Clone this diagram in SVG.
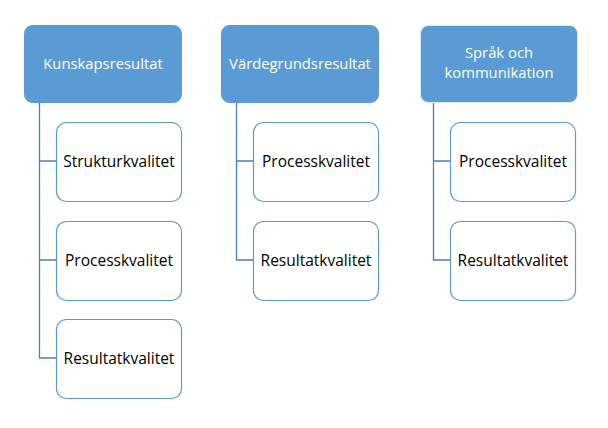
<svg xmlns="http://www.w3.org/2000/svg" width="608" height="428" viewBox="0 0 608 428">
<style>
.hdr{fill:#5B9BD5;stroke:#5B9BD5;stroke-width:1}
.ch{fill:#fff;stroke:#5B9BD5;stroke-width:1.2}
.ht{font-family:"Open Sans","Liberation Sans",sans-serif;font-size:14.8px;fill:#fff;text-anchor:middle}
.ct{font-family:"Open Sans","Liberation Sans",sans-serif;font-size:15.5px;fill:#000;text-anchor:middle}
.con{fill:none;stroke:#4A7EBB;stroke-width:1.3}
</style>
<rect width="608" height="428" fill="#fff"/>
<g id="connectors">
<path class="con" d="M39.5 102V161H56M39.5 161V260H56M39.5 260V358H56"/>
<path class="con" d="M236.5 102V161H253M236.5 161V260H253"/>
<path class="con" d="M433.5 102V161H450M433.5 161V260H450"/>
</g>
<g id="kunskapsresultat"><rect class="hdr" x="24.5" y="25.5" width="157" height="77" rx="8"/><text class="ht" x="103" y="69">Kunskapsresultat</text></g>
<g id="vardegrundsresultat"><rect class="hdr" x="221.5" y="25.5" width="157" height="77" rx="8"/><text class="ht" x="300" y="69">Värdegrundsresultat</text></g>
<g id="sprak"><rect class="hdr" x="420.5" y="25.5" width="157" height="77" rx="8" style="stroke:#DDEBF7"/><text class="ht" x="499" y="58">Språk och</text><text class="ht" x="499" y="78">kommunikation</text></g>
<g id="k1"><rect class="ch" x="56.5" y="122.5" width="125" height="79" rx="10"/><text class="ct" x="119" y="167">Strukturkvalitet</text></g>
<g id="k2"><rect class="ch" x="56.5" y="221.5" width="125" height="79" rx="10"/><text class="ct" x="119" y="266">Processkvalitet</text></g>
<g id="k3"><rect class="ch" x="56.5" y="319.5" width="125" height="79" rx="10"/><text class="ct" x="119" y="364">Resultatkvalitet</text></g>
<g id="v1"><rect class="ch" x="253.5" y="122.5" width="125" height="79" rx="10"/><text class="ct" x="316" y="167">Processkvalitet</text></g>
<g id="v2"><rect class="ch" x="253.5" y="221.5" width="125" height="79" rx="10"/><text class="ct" x="316" y="266">Resultatkvalitet</text></g>
<g id="s1"><rect class="ch" x="450.5" y="122.5" width="125" height="79" rx="10"/><text class="ct" x="513" y="167">Processkvalitet</text></g>
<g id="s2"><rect class="ch" x="450.5" y="221.5" width="125" height="79" rx="10"/><text class="ct" x="513" y="266">Resultatkvalitet</text></g>
</svg>
